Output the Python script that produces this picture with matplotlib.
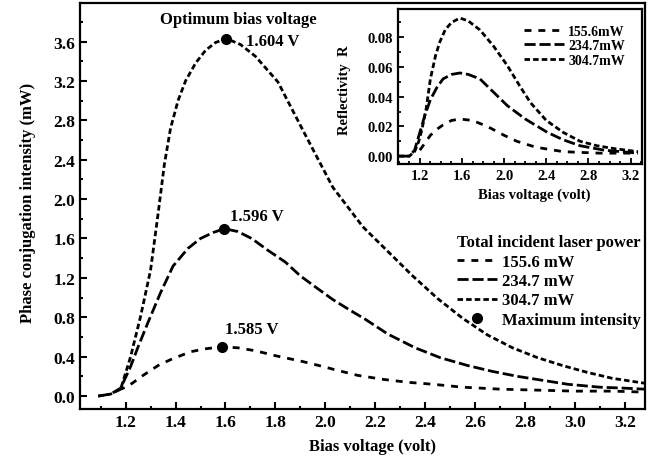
import matplotlib
matplotlib.use("Agg")
import matplotlib.pyplot as plt
from matplotlib.ticker import MultipleLocator, FormatStrFormatter

plt.rcParams['font.family'] = ['Liberation Serif', 'DejaVu Serif']
plt.rcParams['font.weight'] = 'bold'

# main plot: phase conjugation intensity (mW) vs bias voltage (volt)
v_304 = [1.09, 1.14, 1.18, 1.22, 1.26, 1.30, 1.33, 1.355, 1.38, 1.41, 1.44, 1.48, 1.52, 1.56, 1.604,
         1.66, 1.72, 1.81, 1.91, 2.03, 2.15, 2.25, 2.35, 2.45, 2.55, 2.65, 2.75, 2.85, 2.95, 3.05, 3.15, 3.28]
i_304 = [0.00, 0.02, 0.07, 0.40, 0.81, 1.28, 1.85, 2.35, 2.72, 3.00, 3.20, 3.38, 3.51, 3.59, 3.63,
         3.57, 3.45, 3.19, 2.70, 2.12, 1.72, 1.47, 1.22, 0.99, 0.79, 0.62, 0.49, 0.39, 0.31, 0.24, 0.18, 0.13]

v_234 = [1.09, 1.14, 1.18, 1.22, 1.25, 1.29, 1.34, 1.39, 1.45, 1.50, 1.55, 1.596, 1.65, 1.705, 1.77,
         1.84, 1.90, 1.97, 2.03, 2.10, 2.16, 2.25, 2.36, 2.46, 2.57, 2.67, 2.77, 2.87, 2.97, 3.10, 3.20, 3.28]
i_234 = [0.00, 0.02, 0.08, 0.30, 0.50, 0.75, 1.05, 1.32, 1.50, 1.60, 1.66, 1.70, 1.67, 1.60, 1.48,
         1.36, 1.22, 1.09, 0.98, 0.87, 0.78, 0.63, 0.49, 0.39, 0.31, 0.25, 0.20, 0.16, 0.12, 0.09, 0.08, 0.07]

v_155 = [1.17, 1.21, 1.27, 1.33, 1.38, 1.42, 1.46, 1.52, 1.585, 1.65, 1.72, 1.80, 1.91, 1.99, 2.05,
         2.13, 2.23, 2.33, 2.43, 2.55, 2.70, 2.85, 3.00, 3.15, 3.28]
i_155 = [0.06, 0.10, 0.21, 0.31, 0.37, 0.41, 0.45, 0.48, 0.50, 0.49, 0.46, 0.41, 0.35, 0.30, 0.26,
         0.21, 0.17, 0.14, 0.12, 0.09, 0.07, 0.06, 0.05, 0.05, 0.04]

peak_v = [1.604, 1.596, 1.585]
peak_i = [3.63, 1.70, 0.50]
peak_labels = ["1.604 V", "1.596 V", "1.585 V"]

# inset: reflectivity R vs bias voltage
rv_304 = [1.00, 1.10, 1.15, 1.19, 1.22, 1.26, 1.30, 1.35, 1.39, 1.44, 1.50, 1.58, 1.66, 1.77, 1.90,
          2.03, 2.15, 2.25, 2.40, 2.56, 2.72, 2.88, 3.05, 3.27]
r_304 = [0.000, 0.000, 0.003, 0.010, 0.018, 0.032, 0.052, 0.068, 0.077, 0.085, 0.090, 0.093, 0.091,
         0.085, 0.074, 0.061, 0.047, 0.036, 0.024, 0.016, 0.010, 0.007, 0.005, 0.003]
rv_234 = [1.00, 1.10, 1.15, 1.20, 1.25, 1.30, 1.36, 1.42, 1.50, 1.58, 1.66, 1.77, 1.90, 2.03, 2.20,
          2.41, 2.56, 2.72, 2.95, 3.27]
r_234 = [0.000, 0.000, 0.004, 0.016, 0.028, 0.038, 0.046, 0.052, 0.055, 0.056, 0.055, 0.052, 0.043,
         0.034, 0.025, 0.016, 0.011, 0.007, 0.004, 0.002]
rv_155 = [1.20, 1.23, 1.30, 1.36, 1.42, 1.50, 1.58, 1.70, 1.84, 2.00, 2.12, 2.30, 2.56, 2.90, 3.27]
r_155 = [0.004, 0.007, 0.014, 0.018, 0.021, 0.024, 0.025, 0.024, 0.020, 0.014, 0.010, 0.006, 0.003,
         0.002, 0.002]

names = ["155.6 mW", "234.7 mW", "304.7 mW"]
inset_names = ["155.6mW", "234.7mW", "304.7mW"]
dash_155 = (2.5, 2.5)
dash_234 = (4.0, 1.4)
dash_304 = (2.0, 1.1)

fig = plt.figure(figsize=(6.52, 4.60), dpi=100)
ax = fig.add_axes([0.123, 0.109, 0.866, 0.882])

lw = 2.0
l1, = ax.plot(v_155, i_155, color='black', lw=lw, dashes=dash_155)
l2, = ax.plot(v_234, i_234, color='black', lw=lw, dashes=dash_234)
l3, = ax.plot(v_304, i_304, color='black', lw=lw, dashes=dash_304)
dots, = ax.plot(peak_v, peak_i, 'o', color='black', ms=7, zorder=5)

offsets = [(20, -2), (32, 13), (30, 18)]
for x, y, t, off in zip(peak_v, peak_i, peak_labels, offsets):
    ax.annotate(t, xy=(x, y), xytext=off, textcoords='offset pixels',
                ha='center' if off[0] > 25 else 'left', va='center', fontsize=12, fontweight='bold')
ax.text(0.28, 0.96, "Optimum bias voltage", transform=ax.transAxes, ha='center', va='center',
        fontsize=12, fontweight='bold')

ax.set_xlim(1.018, 3.28)
ax.set_ylim(-0.13, 3.99)
ax.xaxis.set_major_locator(MultipleLocator(0.2))
ax.xaxis.set_minor_locator(MultipleLocator(0.1))
ax.yaxis.set_major_locator(MultipleLocator(0.4))
ax.yaxis.set_minor_locator(MultipleLocator(0.2))
ax.tick_params(which='both', direction='in', width=1.5, labelsize=12.5)
ax.tick_params(which='major', length=5)
ax.tick_params(which='minor', length=2.5)
ax.xaxis.set_major_formatter(FormatStrFormatter('%.1f'))
ax.yaxis.set_major_formatter(FormatStrFormatter('%.1f'))
for s in ax.spines.values():
    s.set_linewidth(1.6)

ax.set_xlabel("Bias voltage (volt)", fontsize=12, fontweight='bold', va='center')
ax.xaxis.set_label_coords(0.517, -0.091)
ax.set_ylabel("Phase conjugation intensity (mW)", fontsize=12, fontweight='bold', va='center')
ax.yaxis.set_label_coords(-0.092, 0.51)

leg = ax.legend([l1, l2, l3, dots], names + ["Maximum intensity"], loc='upper right',
                bbox_to_anchor=(0.993, 0.43), frameon=False, fontsize=12,
                title="Total incident laser power", handlelength=2.4, handletextpad=0.3,
                labelspacing=0.2, borderpad=0, borderaxespad=0)
leg.get_title().set_fontweight('bold')
leg.get_title().set_fontsize(12)

# inset
ins = fig.add_axes([0.610, 0.641, 0.375, 0.337])
ins.plot(rv_155, r_155, color='black', lw=lw, dashes=dash_155, label=inset_names[0])
ins.plot(rv_234, r_234, color='black', lw=lw, dashes=dash_234, label=inset_names[1])
ins.plot(rv_304, r_304, color='black', lw=lw, dashes=dash_304, label=inset_names[2])
ins.set_xlim(0.99, 3.31)
ins.set_ylim(-0.0054, 0.099)
ins.xaxis.set_major_locator(MultipleLocator(0.4))
ins.xaxis.set_minor_locator(MultipleLocator(0.1))
ins.yaxis.set_major_locator(MultipleLocator(0.02))
ins.yaxis.set_minor_locator(MultipleLocator(0.01))
ins.xaxis.set_major_formatter(FormatStrFormatter('%.1f'))
ins.yaxis.set_major_formatter(FormatStrFormatter('%.2f'))
ins.tick_params(which='both', direction='in', width=1.3, labelsize=10.5)
ins.tick_params(which='major', length=4)
ins.tick_params(which='minor', length=2)
for s in ins.spines.values():
    s.set_linewidth(1.6)
ins.set_xlabel("Bias voltage (volt)", fontsize=10.5, fontweight='bold', va='center')
ins.xaxis.set_label_coords(0.557, -0.194)
ins.set_ylabel("Reflectivity  R", fontsize=10.5, fontweight='bold', va='center')
ins.yaxis.set_label_coords(-0.217, 0.48)
ins.legend(loc='upper right', bbox_to_anchor=(0.93, 0.90), frameon=False, fontsize=10,
           handlelength=2.9, handletextpad=0.3, labelspacing=0.12, borderpad=0, borderaxespad=0)

fig.savefig("out.png", dpi=100)
